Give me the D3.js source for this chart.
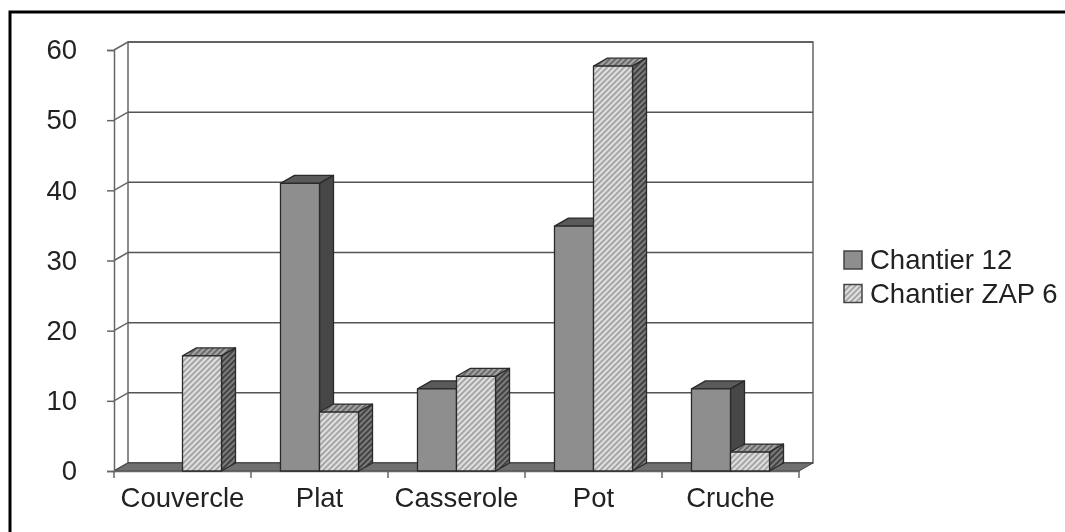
<!DOCTYPE html>
<html>
<head>
<meta charset="utf-8">
<script src="https://cdn.jsdelivr.net/npm/d3@7"></script>
<style>
  html,body{margin:0;padding:0;background:#fff;}
  svg{display:block;}
  text{font-family:"Liberation Sans",Arial,sans-serif;fill:#222;}
</style>
</head>
<body>
<svg id="chart"></svg>
<script>
var categories = ["Couvercle","Plat","Casserole","Pot","Cruche"];
var chantier12 = [0,41,11.7,34.9,11.7];
var chantierZap6 = [16.4,8.4,13.5,57.7,2.7];
var seriesNames = ["Chantier 12","Chantier ZAP 6"];
var yTicks = [0,10,20,30,40,50,60];

var w = 1065, h = 532;
var margins = {left:114, right:266, top:50, bottom:61};
var depthX = 14, depthY = 8;
var fontSize = 27.5;
var innerW = w-margins.left-margins.right;
var innerH = h-margins.top-margins.bottom;

var svg = d3.select("svg#chart").attr("width",w).attr("height",h);

var defs = svg.append("defs");
function hatch(id,bg,fg){
  var p = defs.append("pattern")
              .attr("id",id)
              .attr("patternUnits","userSpaceOnUse")
              .attr("width",4).attr("height",4)
              .attr("patternTransform","rotate(45)");
  p.append("rect").attr("width",4).attr("height",4).attr("fill",bg);
  p.append("rect").attr("width",1.8).attr("height",4).attr("fill",fg);
}
hatch("hatchFront","#e0e0e0","#a0a0a0");
hatch("hatchTop","#a4a4a4","#646464");
hatch("hatchSide","#7c7c7c","#3c3c3c");

var soft = defs.append("filter").attr("id","soft")
               .attr("x","-2%").attr("y","-2%").attr("width","104%").attr("height","104%");
soft.append("feGaussianBlur").attr("stdDeviation",0.7);

var root = svg.append("g").attr("filter","url(#soft)");

// page frame, runs off the right and bottom of the picture
root.append("rect")
    .attr("x",10).attr("y",12)
    .attr("width",w+20).attr("height",h+20)
    .attr("fill","none")
    .attr("stroke","#000")
    .attr("stroke-width",3);

var xScale = d3.scaleBand()
               .domain(categories)
               .range([0,innerW]);
var yScale = d3.scaleLinear()
               .domain([0,60])
               .range([innerH,0]);
var seriesScale = d3.scaleBand()
                    .domain(seriesNames)
                    .range([0,xScale.bandwidth()])
                    .paddingOuter(0.756)
                    .paddingInner(0);

var plot = root.append("g")
               .attr("transform","translate("+margins.left+","+margins.top+")");

function pts(list){
  return list.map(function(p){return p.join(",");}).join(" ");
}

var wallColor = "#666";

// back wall + grid
var back = plot.append("g").attr("transform","translate("+depthX+","+(-depthY)+")");
back.append("rect")
    .attr("width",innerW).attr("height",innerH)
    .attr("fill","#fff").attr("stroke",wallColor).attr("stroke-width",1.5);
back.selectAll("line.grid")
    .data(yTicks)
    .enter()
    .append("line")
    .classed("grid",true)
    .attr("x1",0).attr("x2",innerW)
    .attr("y1",function(d){return yScale(d);})
    .attr("y2",function(d){return yScale(d);})
    .attr("stroke","#555").attr("stroke-width",1.5);

// left side wall: the diagonals from axis to back wall
plot.selectAll("line.side")
    .data(yTicks)
    .enter()
    .append("line")
    .classed("side",true)
    .attr("x1",0).attr("x2",depthX)
    .attr("y1",function(d){return yScale(d);})
    .attr("y2",function(d){return yScale(d)-depthY;})
    .attr("stroke",wallColor).attr("stroke-width",1.5);

// floor
plot.append("polygon")
    .attr("points",pts([[0,innerH],[depthX,innerH-depthY],[innerW+depthX,innerH-depthY],[innerW,innerH]]))
    .attr("fill","#707070").attr("stroke","#444").attr("stroke-width",1);

// axes
var yAxis = d3.axisLeft(yScale).tickValues(yTicks).tickSize(7).tickPadding(30);
var yG = plot.append("g").call(yAxis);
var xAxis = d3.axisBottom(xScale).tickSize(0).tickPadding(16);
var xG = plot.append("g").attr("transform","translate(0,"+innerH+")").call(xAxis);
xG.selectAll("line.edge")
  .data(d3.range(categories.length+1))
  .enter()
  .append("line")
  .classed("edge",true)
  .attr("x1",function(i){return i*xScale.step();})
  .attr("x2",function(i){return i*xScale.step();})
  .attr("y1",0).attr("y2",7)
  .attr("stroke",wallColor).attr("stroke-width",1.5);
[yG,xG].forEach(function(g){
  g.select(".domain").attr("stroke",wallColor).attr("stroke-width",1.5);
  g.selectAll(".tick line").attr("stroke",wallColor).attr("stroke-width",1.5);
  g.selectAll("text").attr("font-size",fontSize).attr("font-family",null).style("fill","#222");
});

// bars
var looks = [
  {front:"#8e8e8e", top:"#5a5a5a", side:"#474747"},
  {front:"url(#hatchFront)", top:"url(#hatchTop)", side:"url(#hatchSide)"}
];

function drawBars(values,serie,look){
  var bw = seriesScale.bandwidth();
  var bars = plot.append("g")
                 .selectAll("g")
                 .data(values.map(function(v,i){return {v:v,c:categories[i]};})
                             .filter(function(d){return d.v>0;}))
                 .enter()
                 .append("g")
                 .attr("stroke","#2a2a2a")
                 .attr("stroke-width",1.3)
                 .attr("stroke-linejoin","round");
  function bx(d){return xScale(d.c)+seriesScale(serie);}
  bars.append("polygon")
      .attr("fill",look.top)
      .attr("points",function(d){
        var x=bx(d), y=yScale(d.v);
        return pts([[x,y],[x+depthX,y-depthY],[x+bw+depthX,y-depthY],[x+bw,y]]);
      });
  bars.append("polygon")
      .attr("fill",look.side)
      .attr("points",function(d){
        var x=bx(d)+bw, y=yScale(d.v);
        return pts([[x,y],[x+depthX,y-depthY],[x+depthX,innerH-depthY],[x,innerH]]);
      });
  bars.append("rect")
      .attr("fill",look.front)
      .attr("x",bx)
      .attr("y",function(d){return yScale(d.v);})
      .attr("width",bw)
      .attr("height",function(d){return innerH-yScale(d.v);});
}
drawBars(chantier12,seriesNames[0],looks[0]);
drawBars(chantierZap6,seriesNames[1],looks[1]);

// legend
var legend = root.append("g")
                 .classed("legend",true)
                 .attr("transform","translate(844,251)");
var legendLines = legend.selectAll("g")
                        .data(seriesNames)
                        .enter()
                        .append("g")
                        .attr("transform",function(d,i){
                          return "translate(0,"+(33.5*i)+")";
                        });
legendLines.append("rect")
           .attr("width",18).attr("height",18)
           .attr("stroke","#444").attr("stroke-width",1.5)
           .attr("fill",function(d,i){return looks[i].front;});
legendLines.append("text")
           .attr("x",26).attr("y",18)
           .attr("font-size",fontSize)
           .text(function(d){return d;});
</script>
</body>
</html>
